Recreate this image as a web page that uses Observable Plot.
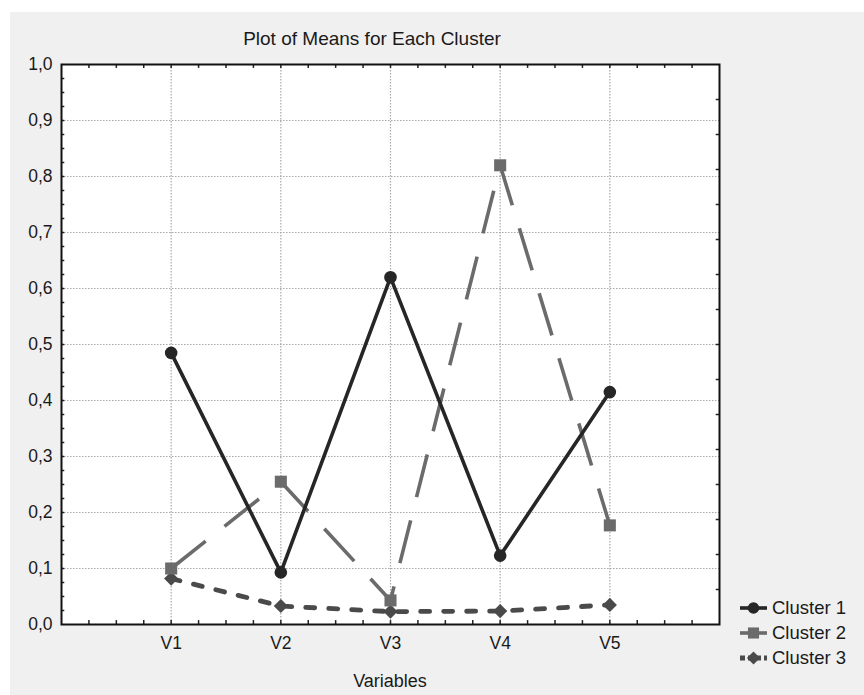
<!DOCTYPE html>
<html><head><meta charset="utf-8">
<script src="https://cdn.jsdelivr.net/npm/d3@7"></script>
<script src="https://cdn.jsdelivr.net/npm/@observablehq/plot@0.6"></script>
<style>
body{margin:0;background:#fff;}
#fig{position:relative;width:864px;height:695px;background:#fff;overflow:hidden;font-family:"Liberation Sans Narrow","Arial Narrow","Liberation Sans",Arial,sans-serif;color:#1a1a1a;}
#panel{position:absolute;left:10px;top:12px;right:0;bottom:0;background:#f0f0f0;}
#chart{position:absolute;left:0;top:0;}
#title{position:absolute;top:28px;left:0;width:744px;text-align:center;font-size:19px;line-height:22px;}
#xlabel{position:absolute;top:670px;left:0;width:780px;text-align:center;font-size:18px;line-height:22px;}
#legend{position:absolute;left:739px;top:595px;font-size:18.5px;}
#legend .row{display:flex;align-items:center;height:25px;}
#legend svg{margin-right:4px;}
</style></head><body>
<div id="fig"><div id="panel"></div><div id="chart"></div><div id="title">Plot of Means for Each Cluster</div><div id="xlabel">Variables</div><div id="legend"></div></div>
<script>
// ---- data ----
const variables = ["V1", "V2", "V3", "V4", "V5"];
const clusters = ["Cluster 1", "Cluster 2", "Cluster 3"];
const cluster1 = [0.485, 0.093, 0.620, 0.123, 0.415];
const cluster2 = [0.100, 0.255, 0.043, 0.820, 0.177];
const cluster3 = [0.082, 0.033, 0.023, 0.024, 0.035];
const yTickValues = [0, 0.1, 0.2, 0.3, 0.4, 0.5, 0.6, 0.7, 0.8, 0.9, 1.0];

// ---- styles ----
const styles = {
  "Cluster 1": {stroke: "#262626", width: 3.6, dash: null, symbol: "circle", r: 6.3},
  "Cluster 2": {stroke: "#6b6b6b", width: 3.6, dash: "44,24", symbol: "square", r: 6.8},
  "Cluster 3": {stroke: "#4a4a4a", width: 4.8, dash: "9,14", symbol: "diamond2", r: 6.4}
};
const series = [cluster1, cluster2, cluster3];
const rows = series.map((vals, k) => vals.map((v, i) => ({variable: variables[i], pos: i + 1, value: v, cluster: clusters[k]})));
const positions = variables.map((v, i) => i + 1);
const fmt = d => d.toFixed(1).replace(".", ",");
const font = '"Liberation Sans Narrow","Arial Narrow","Liberation Sans",Arial,sans-serif';

const lineMarks = [], dotMarks = [];
for (let k = 2; k >= 0; k--) {
  const s = styles[clusters[k]];
  lineMarks.push(Plot.line(rows[k], {x: "pos", y: "value", stroke: s.stroke, strokeWidth: s.width, strokeDasharray: s.dash, strokeLinecap: k === 2 ? "round" : "butt"}));
  dotMarks.push(Plot.dot(rows[k], {x: "pos", y: "value", symbol: s.symbol, r: s.r, fill: s.stroke, stroke: "none"}));
}

const minorX = d3.range(0.25, 6, 0.25);
const minorYLeft = d3.range(0.025, 1, 0.025);
const minorYRight = d3.range(1 / 16, 1, 1 / 16);

const chart = Plot.plot({
  width: 864, height: 695,
  marginLeft: 61, marginRight: 145, marginTop: 64, marginBottom: 71,
  style: {background: "transparent", fontFamily: font, fontSize: "17.5px", color: "#1a1a1a"},
  x: {domain: [0, 6]},
  y: {domain: [0, 1]},
  marks: [
    Plot.frame({fill: "white", stroke: "none"}),
    Plot.gridY(yTickValues.slice(1, -1), {stroke: "#a8a8a8", strokeOpacity: 1, strokeWidth: 1.2, strokeDasharray: "1.5,1.5"}),
    Plot.gridX(positions, {stroke: "#a8a8a8", strokeOpacity: 1, strokeWidth: 1.2, strokeDasharray: "1.5,1.5"}),
    Plot.ruleX(minorX, {y1: 0, y2: 0.007, stroke: "#222", strokeWidth: 1.5}),
    Plot.ruleX(minorX, {y1: 1, y2: 0.993, stroke: "#222", strokeWidth: 1.5}),
    Plot.ruleY(minorYLeft, {x1: 0, x2: 0.03, stroke: "#222", strokeWidth: 1.5}),
    Plot.ruleY(minorYRight, {x1: 6, x2: 5.97, stroke: "#222", strokeWidth: 1.5}),
    Plot.axisY(yTickValues, {tickFormat: fmt, tickSize: 0, tickPadding: 9, label: null, fontSize: 17.5}),
    Plot.axisX(positions, {tickFormat: i => variables[i - 1], tickSize: 0, tickPadding: 12, label: null, fontSize: 17.5}),
    ...lineMarks,
    ...dotMarks,
    Plot.frame({stroke: "#111", strokeWidth: 2, fill: "none"})
  ]
});
document.getElementById("chart").append(chart);

// ---- legend ----
const legend = d3.select("#legend");
clusters.forEach(c => {
  const s = styles[c];
  const row = legend.append("div").attr("class", "row");
  const svg = row.append("svg").attr("width", 29).attr("height", 16);
  svg.append("line").attr("x1", 1).attr("x2", 28).attr("y1", 8).attr("y2", 8)
    .attr("stroke", s.stroke).attr("stroke-width", s.width)
    .attr("stroke-dasharray", c === "Cluster 3" ? "5,3" : null);
  const sym = {circle: d3.symbolCircle, square: d3.symbolSquare, diamond2: d3.symbolDiamond2}[s.symbol];
  svg.append("path").attr("transform", "translate(14.5,8)")
    .attr("d", d3.symbol(sym, Math.PI * s.r * s.r * 0.85)()).attr("fill", s.stroke);
  row.append("span").text(c);
});
</script>
</body></html>
